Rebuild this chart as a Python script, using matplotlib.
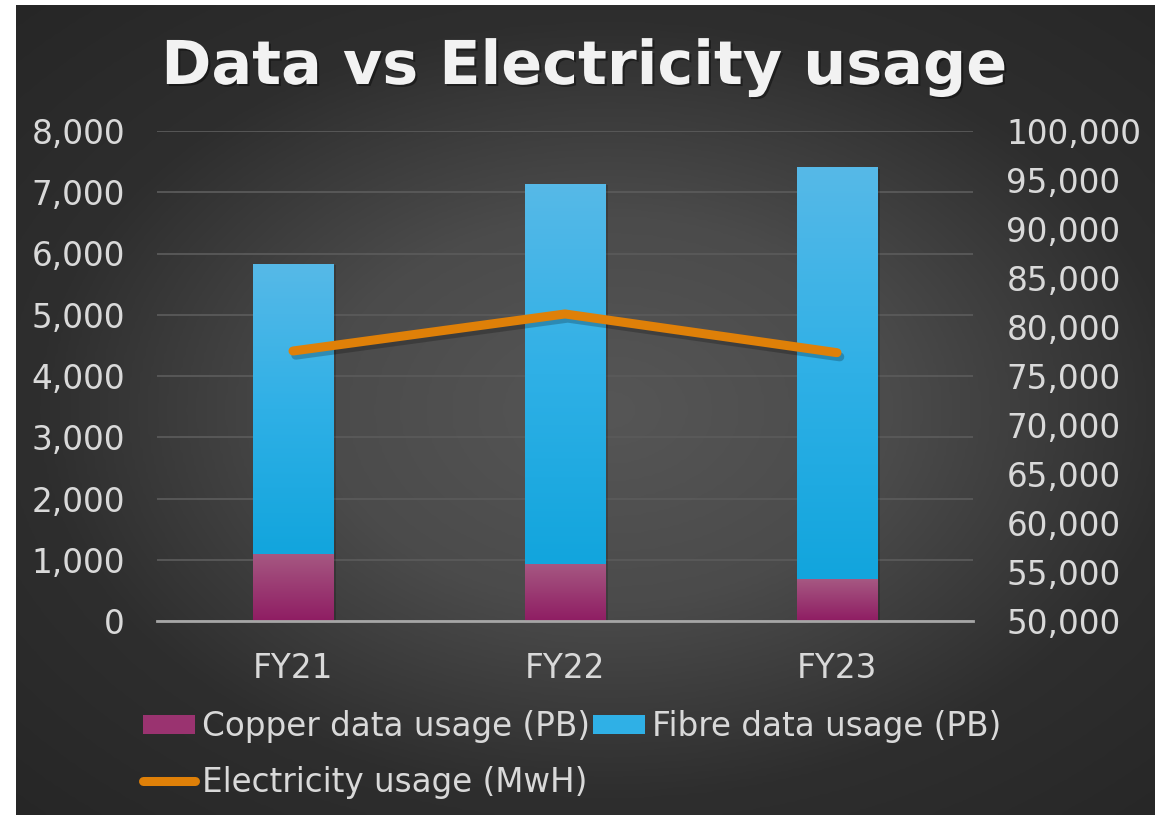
import numpy as np
import matplotlib.pyplot as plt
from matplotlib.patches import Patch
from matplotlib.lines import Line2D
from matplotlib.colors import LinearSegmentedColormap
import matplotlib.patheffects as pe
from matplotlib.ticker import FuncFormatter

years = ['FY21', 'FY22', 'FY23']
copper = [1100, 935, 685]
fibre = [4730, 6200, 6725]
electricity = [77550, 81330, 77380]

fig = plt.figure(figsize=(11.66, 8.16), dpi=100)
fig.patch.set_facecolor('white')

# dark radial background panel
bg = fig.add_axes([16 / 1166, 1 - 815 / 816, 1139 / 1166, 810 / 816], zorder=-5)
yy, xx = np.mgrid[0:1:300j, 0:1:420j]
r = np.sqrt(((xx - 0.52) / 0.75) ** 2 + ((yy - 0.5) / 0.72) ** 2)
r = np.clip(r, 0, 1)
bg_cmap = LinearSegmentedColormap.from_list('bg', ['#565656', '#4b4b4b', '#2e2e2e', '#262626'])
bg.imshow(r, cmap=bg_cmap, aspect='auto', vmin=0, vmax=1, interpolation='bicubic')
bg.axis('off')

ax = fig.add_axes([157 / 1166, 1 - 621 / 816, 816 / 1166, 490 / 816])
ax.set_facecolor('none')
ax2 = ax.twinx()
ax2.set_facecolor('none')

x = np.arange(len(years))
w = 0.295
shadow = [pe.SimplePatchShadow(offset=(2, -1), shadow_rgbFace='black', alpha=0.18), pe.Normal()]

cop_cmap = LinearSegmentedColormap.from_list('cop', ['#8f1d63', '#a65882'])
fib_cmap = LinearSegmentedColormap.from_list('fib', ['#12a5dd', '#2fb0e6', '#56b9e8'])

b1 = ax.bar(x, copper, w, color='#9a3370', zorder=3)
b2 = ax.bar(x, fibre, w, bottom=copper, color='#2fb0e6', zorder=3)
grad = np.linspace(0, 1, 100).reshape(-1, 1)
for bars, cm in ((b1, cop_cmap), (b2, fib_cmap)):
    for rect in bars:
        rect.set_path_effects(shadow)
        x0, y0 = rect.get_x(), rect.get_y()
        im = ax.imshow(grad, cmap=cm, aspect='auto', origin='lower',
                       extent=[x0, x0 + rect.get_width(), y0, y0 + rect.get_height()],
                       zorder=3.5, interpolation='bicubic')
        im.set_clip_path(rect)

ax2.plot(x, electricity, color='#df8008', lw=6.5, solid_capstyle='round', solid_joinstyle='round',
         path_effects=[pe.SimpleLineShadow(offset=(2, -3), shadow_color='black', alpha=0.22), pe.Normal()])

ax.set_xlim(-0.5, 2.5)
ax.set_ylim(0, 8000)
ax.set_yticks(np.arange(0, 8001, 1000))
ax2.set_ylim(50000, 100000)
ax2.set_yticks(np.arange(50000, 100001, 5000))
fmt = FuncFormatter(lambda v, p: f'{v:,.0f}')
ax.yaxis.set_major_formatter(fmt)
ax2.yaxis.set_major_formatter(fmt)
ax.set_xticks(x)
ax.set_xticklabels(years)

ax.grid(axis='y', color='#5a5a5a', lw=1.3, zorder=0)
ax.set_axisbelow(True)
for a in (ax, ax2):
    for s in a.spines.values():
        s.set_visible(False)
ax.spines['bottom'].set_visible(True)
ax.spines['bottom'].set_color('#a6a6a6')
ax.spines['bottom'].set_linewidth(2)
ax.spines['bottom'].set_zorder(5)

tc = '#d9d9d9'
ax.tick_params(axis='y', length=0, labelsize=23.5, labelcolor=tc, pad=23)
ax.tick_params(axis='x', length=0, labelsize=23.5, labelcolor=tc, pad=22)
ax2.tick_params(axis='y', length=0, labelsize=23.5, labelcolor=tc, pad=24)

fig.text(0.501, 1 - 84 / 816, 'Data vs Electricity usage', ha='center', va='baseline',
         fontsize=43.5, fontweight='bold', color='#f2f2f2',
         path_effects=[pe.withSimplePatchShadow(offset=(1.5, -1.5), shadow_rgbFace='black', alpha=0.4)])

handles = [Patch(facecolor='#9a3370', label='Copper data usage (PB)'),
           Line2D([0], [0], color='#df8008', lw=6.5, solid_capstyle='round', label='Electricity usage (MwH)'),
           Patch(facecolor='#2fb0e6', label='Fibre data usage (PB)')]
leg = fig.legend(handles=handles, ncol=2, loc='upper left', bbox_to_anchor=(143 / 1166, 1 - 710 / 816),
                 frameon=False, fontsize=23.5, labelcolor=tc, handlelength=1.6, handleheight=0.55,
                 handletextpad=0.2, columnspacing=0.1, labelspacing=0.7, borderpad=0, borderaxespad=0)

fig.savefig('out.png', dpi=100, facecolor='white')
